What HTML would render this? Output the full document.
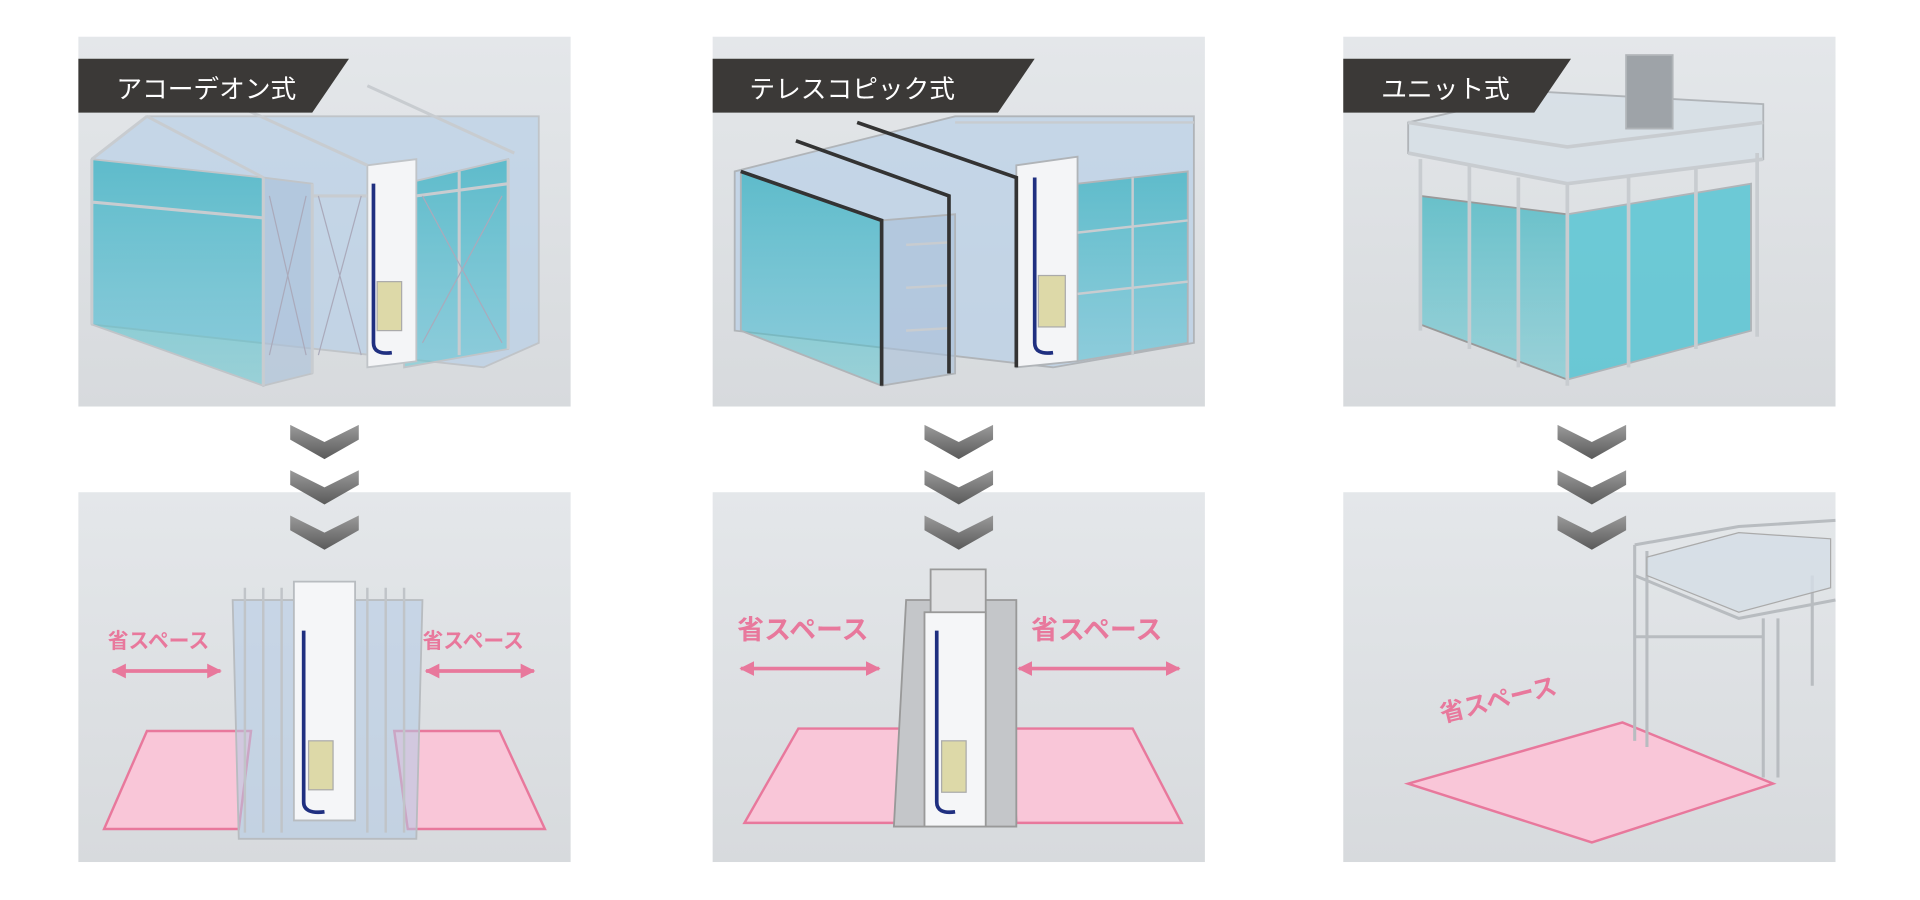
<!DOCTYPE html>
<html><head><meta charset="utf-8"><style>
html,body{margin:0;padding:0;background:#fff;width:1920px;height:900px;overflow:hidden}
svg{display:block}
text{font-family:"Liberation Sans","Noto Sans CJK JP",sans-serif}
</style></head><body>
<svg width="1920" height="900" viewBox="0 0 1568 735" preserveAspectRatio="none" xmlns="http://www.w3.org/2000/svg">
<defs>
<linearGradient id="bg" x1="0" y1="0" x2="0" y2="1"><stop offset="0" stop-color="#e4e7ea"/><stop offset="1" stop-color="#d7dadd"/></linearGradient>
<linearGradient id="cy" x1="0" y1="0" x2="0" y2="1"><stop offset="0" stop-color="#1aaab8" stop-opacity=".6"/><stop offset="1" stop-color="#4cc3cf" stop-opacity=".45"/></linearGradient>
<linearGradient id="chev" x1="0" y1="0" x2="0" y2="1"><stop offset="0" stop-color="#9a9a9a"/><stop offset="1" stop-color="#5a5a5a"/></linearGradient>
<g id="chevs">
<path d="M-28,0 L0,14 L28,0 L28,12 L0,28 L-28,12Z" fill="url(#chev)"/>
<path d="M-28,37 L0,51 L28,37 L28,49 L0,65 L-28,49Z" fill="url(#chev)"/>
<path d="M-28,74 L0,88 L28,74 L28,86 L0,102 L-28,86Z" fill="url(#chev)"/>
</g>
<marker id="ah" viewBox="0 0 10 10" refX="9" refY="5" markerWidth="4" markerHeight="4" orient="auto-start-reverse"><path d="M0,0L10,5L0,10Z" fill="#e8789c"/></marker>
</defs>

<rect x="64" y="30" width="402" height="302" fill="url(#bg)"/>
<rect x="582" y="30" width="402" height="302" fill="url(#bg)"/>
<rect x="1097" y="30" width="402" height="302" fill="url(#bg)"/>
<rect x="64" y="402" width="402" height="302" fill="url(#bg)"/>
<rect x="582" y="402" width="402" height="302" fill="url(#bg)"/>
<rect x="1097" y="402" width="402" height="302" fill="url(#bg)"/>

<!-- Accordion top -->
<g stroke="#c0c4c8" stroke-width="1.5">
<polygon points="75,130 120,95 440,95 440,280 395,300 75,265" fill="#b3cde8" fill-opacity=".6"/>
<polygon points="75,130 215,145 215,315 75,265" fill="url(#cy)"/>
<polygon points="330,150 415,130 415,285 330,300" fill="url(#cy)"/>
<polygon points="215,145 255,150 255,305 215,315" fill="#a9bfd8" fill-opacity=".6"/>
<polygon points="300,135 340,130 340,295 300,300" fill="#f4f5f7"/>
</g>
<g stroke="#c8ccd0" stroke-width="2.5" fill="none">
<path d="M75,130 L75,265 M120,95 L215,145 M180,80 L300,135 M300,70 L420,125 M75,130 L120,95 M215,145 L215,315 M255,150 L255,305 M375,140 L375,290 M415,130 L415,285 M75,165 L215,178 M255,160 L300,160 M340,160 L415,150"/>
</g>
<path d="M305,150 L305,280 Q305,290 320,288" stroke="#1f2f80" stroke-width="3" fill="none"/>
<rect x="308" y="230" width="20" height="40" fill="#ddd9a8" stroke="#aaa"/>
<path d="M220,160 L250,290 M250,160 L220,290 M260,160 L295,290 M295,160 L260,290 M345,160 L410,280 M410,160 L345,280" stroke="#aab" stroke-width="1"/>

<!-- Telescopic top -->
<g stroke="#b0b4b8" stroke-width="1.5">
<polygon points="600,140 780,95 975,95 975,280 860,300 600,270" fill="#b3cde8" fill-opacity=".6"/>
<polygon points="605,140 720,180 720,315 605,270" fill="url(#cy)"/>
<polygon points="880,150 970,140 970,280 880,295" fill="url(#cy)"/>
<polygon points="720,180 780,175 780,305 720,315" fill="#a9bfd8" fill-opacity=".6"/>
<polygon points="830,135 880,128 880,295 830,300" fill="#f4f5f7"/>
</g>
<g stroke="#c8ccd0" stroke-width="2" fill="none">
<path d="M740,200 L775,198 M740,235 L775,233 M740,270 L775,268 M880,190 L970,180 M880,240 L970,230 M925,145 L925,290 M780,100 L975,100"/>
</g>
<path d="M605,140 L720,180 L720,315 M650,115 L775,160 L775,305 M700,100 L830,145 L830,300" stroke="#333" stroke-width="3" fill="none"/>
<path d="M845,145 L845,280 Q845,290 860,288" stroke="#1f2f80" stroke-width="3" fill="none"/>
<rect x="848" y="225" width="22" height="42" fill="#ddd9a8" stroke="#aaa"/>

<!-- Unit top -->
<g stroke="#b0b4b8" stroke-width="1.5">
<polygon points="1160,160 1280,175 1280,310 1160,265" fill="url(#cy)" stroke="#999"/>
<polygon points="1280,175 1430,150 1430,270 1280,310" fill="#3cbfd0" fill-opacity=".7"/>
<polygon points="1150,100 1260,75 1440,85 1440,130 1280,150 1150,125" fill="#d6dee6" fill-opacity=".8"/>
<rect x="1328" y="45" width="38" height="60" fill="#9ea3a8"/>
</g>
<path d="M1150,100 L1280,120 L1440,100 M1150,125 L1280,150 L1440,130 M1160,130 L1160,270 M1280,150 L1280,315 M1435,125 L1435,275 M1200,135 L1200,285 M1240,145 L1240,300 M1330,145 L1330,300 M1385,138 L1385,285" stroke="#c8ccd0" stroke-width="3" fill="none"/>

<!-- tabs -->
<polygon points="64,48 285,48 255,92 64,92" fill="#3b3937"/>
<text x="95" y="80" font-size="21" fill="#fff">アコーデオン式</text>
<polygon points="582,48 845,48 815,92 582,92" fill="#3b3937"/>
<text x="612" y="80" font-size="21" fill="#fff">テレスコピック式</text>
<polygon points="1097,48 1283,48 1253,92 1097,92" fill="#3b3937"/>
<text x="1128" y="80" font-size="21" fill="#fff">ユニット式</text>

<use href="#chevs" x="265" y="347"/>
<use href="#chevs" x="783" y="347"/>
<use href="#chevs" x="1300" y="347"/>

<!-- Accordion bottom -->
<polygon points="120,597 205,597 195,677 85,677" fill="#f9c6d8" stroke="#e8789c" stroke-width="2"/>
<polygon points="322,597 408,597 445,677 333,677" fill="#f9c6d8" stroke="#e8789c" stroke-width="2"/>
<g stroke="#b8bcc0" stroke-width="1.5">
<polygon points="190,490 345,490 340,685 195,685" fill="#b3cbe6" fill-opacity=".55"/>
<polygon points="240,475 290,475 290,670 240,670" fill="#f5f6f8"/>
</g>
<path d="M200,480 L200,680 M215,480 L215,680 M230,480 L230,680 M300,480 L300,680 M315,480 L315,680 M330,480 L330,680" stroke="#c0c4c8" stroke-width="2"/>
<path d="M248,515 L248,655 Q248,665 265,663" stroke="#1f2f80" stroke-width="3" fill="none"/>
<rect x="252" y="605" width="20" height="40" fill="#ddd9a8" stroke="#aaa"/>
<text x="88" y="529" font-size="17" font-weight="bold" fill="#e8789c">省スペース</text>
<text x="345" y="529" font-size="17" font-weight="bold" fill="#e8789c">省スペース</text>
<line x1="92" y1="548" x2="180" y2="548" stroke="#e8789c" stroke-width="3" marker-start="url(#ah)" marker-end="url(#ah)"/>
<line x1="348" y1="548" x2="436" y2="548" stroke="#e8789c" stroke-width="3" marker-start="url(#ah)" marker-end="url(#ah)"/>

<!-- Telescopic bottom -->
<polygon points="652,595 740,595 740,672 608,672" fill="#f9c6d8" stroke="#e8789c" stroke-width="2"/>
<polygon points="825,595 925,595 965,672 830,672" fill="#f9c6d8" stroke="#e8789c" stroke-width="2"/>
<g stroke="#999" stroke-width="1.5">
<polygon points="740,490 830,490 830,675 730,675" fill="#c4c6c9"/>
<polygon points="760,465 805,465 805,505 760,505" fill="#e0e1e3"/>
<rect x="755" y="500" width="50" height="175" fill="#f5f6f8"/>
</g>
<path d="M765,515 L765,655 Q765,665 780,663" stroke="#1f2f80" stroke-width="3" fill="none"/>
<rect x="769" y="605" width="20" height="42" fill="#ddd9a8" stroke="#aaa"/>
<text x="602" y="522" font-size="22" font-weight="bold" fill="#e8789c">省スペース</text>
<text x="842" y="522" font-size="22" font-weight="bold" fill="#e8789c">省スペース</text>
<line x1="605" y1="546" x2="718" y2="546" stroke="#e8789c" stroke-width="3" marker-start="url(#ah)" marker-end="url(#ah)"/>
<line x1="832" y1="546" x2="963" y2="546" stroke="#e8789c" stroke-width="3" marker-start="url(#ah)" marker-end="url(#ah)"/>

<!-- Unit bottom -->
<polygon points="1150,640 1325,590 1448,640 1300,688" fill="#f9c6d8" stroke="#e8789c" stroke-width="2"/>
<g stroke="#b8bcc0" stroke-width="2.5" fill="none">
<path d="M1335,445 L1420,430 L1499,425 M1335,470 L1420,505 L1499,490 M1335,445 L1335,605 M1345,450 L1345,610 M1440,505 L1440,635 M1452,505 L1452,635 M1480,470 L1480,560 M1335,520 L1440,520"/>
</g>
<polygon points="1345,455 1420,435 1495,440 1495,480 1420,500 1345,470" fill="#d4dde6" fill-opacity=".8" stroke="#aaa"/>
<text x="1178" y="590" font-size="20" font-weight="bold" fill="#e8789c" transform="rotate(-14 1178 590)">省スペース</text>
</svg>
</body></html>
